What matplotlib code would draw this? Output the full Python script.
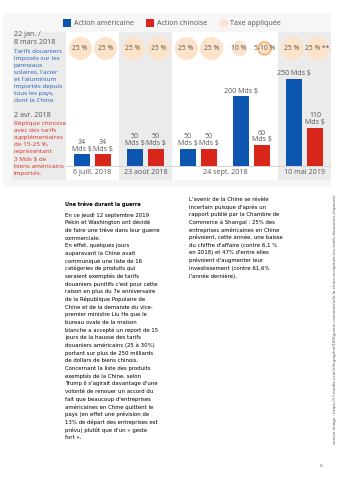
import matplotlib
matplotlib.use("Agg")
import matplotlib.pyplot as plt
from matplotlib.patches import Rectangle, Circle

# ---------------- data ----------------
dates = ["6 juill. 2018", "23 août 2018", "24 sept. 2018", "10 mai 2019"]
date_pos = [0, 1, 2.5, 4]
pairs = [0, 1, 2, 3, 4]
us_values = [34, 50, 50, 200, 250]
cn_values = [34, 50, 50, 60, 110]
us_labels = ["34\nMds $", "50\nMds $", "50\nMds $", "200 Mds $", "250 Mds $"]
cn_labels = ["34\nMds $", "50\nMds $", "50\nMds $", "60\nMds $", "110\nMds $"]
us_tax = ["25 %", "25 %", "25 %", "10 %", "25 %"]
cn_tax = ["25 %", "25 %", "25 %", "5-10 %", "25 % **"]
legend_labels = ["Action américaine", "Action chinoise", "Taxe appliquée"]

head_dates = ["22 jan. /", "8 mars 2018"]
us_note = ["Tarifs douaniers", "imposés sur les", "panneaux", "solaires, l'acier",
           "et l'aluminium", "importés depuis", "tous les pays,", "dont la Chine."]
cn_date = "2 avr. 2018"
cn_note = ["Réplique chinoise", "avec des tarifs", "supplémentaires", "de 15-25 %,",
           "représentant", "3 Mds $ de", "biens américains", "importés."]

title_left = "Une trêve durant la guerre"
body_left = [
    "En ce jeudi 12 septembre 2019",
    "Pékin et Washington ont décidé",
    "de faire une trêve dans leur guerre",
    "commerciale.",
    "En effet, quelques jours",
    "auparavant la Chine avait",
    "communiqué une liste de 16",
    "catégories de produits qui",
    "seraient exemptés de tarifs",
    "douaniers punitifs c'est pour cette",
    "raison en plus du 7e anniversaire",
    "de la République Populaire de",
    "Chine et de la demande du vice-",
    "premier ministre Liu He que le",
    "bureau ovale de la maison",
    "blanche a accepté un report de 15",
    "jours de la hausse des tarifs",
    "douaniers américains (25 à 30%)",
    "portant sur plus de 250 milliards",
    "de dollars de biens chinois.",
    "Concernant la liste des produits",
    "exemptés de la Chine, selon",
    "Trump il s'agirait davantage d'une",
    "volonté de renouer un accord du",
    "fait que beaucoup d'entreprises",
    "américaines en Chine quittent le",
    "pays (en effet une prévision de",
    "13% de départ des entreprises est",
    "prévu) plutôt que d'un « geste",
    "fort ».",
]
body_right = [
    "L'avenir de la Chine se révèle",
    "incertain puisque d'après un",
    "rapport publié par la Chambre de",
    "Commerce à Shangaï : 25% des",
    "entreprises américaines en Chine",
    "prévoient, cette année, une baisse",
    "du chiffre d'affaire (contre 6,1 %",
    "en 2018) et 47% d'entre elles",
    "prévoient d'augmenter leur",
    "investissement (contre 61,6%",
    "l'année dernière).",
]
source_text = ("source image : https://i.f-media.com/infographie/180/guerre-commerciale-"
               "la-chine-recapitule-les-tarifs-douaniers-imposes/")
page_no = "8"

# ---------------- style ----------------
BLUE = "#0d56b0"
RED = "#d8261b"
PEACH = "#fde3c9"
RING = "#f0ae6c"
GREY_TXT = "#555555"
PANEL = "#f6f6f6"
BAND = "#ebebeb"
CF = "Open Sans"

W, H = 339, 480
fig = plt.figure(figsize=(W / 100, H / 100), dpi=100)
fig.patch.set_facecolor("white")

# background axes in pixel coordinates
bg = fig.add_axes([0, 0, 1, 1], zorder=0)
bg.set_xlim(0, W); bg.set_ylim(H, 0); bg.axis("off")
bg.add_patch(Rectangle((3, 13), 327.5, 174, color=PANEL, lw=0))
bg.add_patch(Rectangle((12.7, 31.7), 53.3, 148.3, color=BAND, lw=0))

# bar axes
x0, x1, ytop, ybot = 66, 331, 31.7, 180
ax = fig.add_axes([x0 / W, 1 - ybot / H, (x1 - x0) / W, (ybot - ytop) / H], zorder=1)
ax.set_xlim(-0.5, 4.5)
ax.set_ylim(-40.2, 385.9)
ax.set_facecolor("white")
for s in ax.spines.values():
    s.set_visible(False)
ax.set_xticks([]); ax.set_yticks([])
for a, b in [(0.5, 1.5), (3.5, 4.5)]:
    ax.axvspan(a, b, color=BAND, lw=0, zorder=0)
ax.axhline(0, color="#d2d2d2", lw=0.7, zorder=1)

off, bw = 0.2, 0.315
xs_us = [p - off for p in pairs]
xs_cn = [p + off for p in pairs]
ax.bar(xs_us, us_values, width=bw, color=BLUE, zorder=2)
ax.bar(xs_cn, cn_values, width=bw, color=RED, zorder=2)
for x, v, lab in list(zip(xs_us, us_values, us_labels)) + list(zip(xs_cn, cn_values, cn_labels)):
    ax.annotate(lab, (x, v), xytext=(0, 1.2), textcoords="offset points",
                ha="center", va="bottom", fontsize=5.0, family=CF,
                color=GREY_TXT, linespacing=0.95)

for x, lab in zip(date_pos, dates):
    ax.text(x, -18, lab, ha="center", va="center", fontsize=5.1, family=CF, color=GREY_TXT)

# tax circles
cy = 338
coff = 0.245
def tax_size(lab):
    return 274 if lab.startswith("25") else 125

for p, tu, tc in zip(pairs, us_tax, cn_tax):
    for x, t in [(p - coff, tu), (p + coff, tc)]:
        ax.scatter([x], [cy], s=tax_size(t), color=PEACH, lw=0, zorder=2, clip_on=False)
        if t.startswith("5-"):
            ax.scatter([x], [cy], s=80, facecolor="none", edgecolor=RING, lw=1.0,
                       zorder=3, clip_on=False)
        ax.text(x, cy, t, ha="center", va="center", fontsize=4.9, family=CF,
                color=GREY_TXT, zorder=4)

# overlay axes for texts in pixel coordinates
ov = fig.add_axes([0, 0, 1, 1], zorder=2)
ov.set_xlim(0, W); ov.set_ylim(H, 0); ov.axis("off")
ov.patch.set_alpha(0)

# legend
ov.add_patch(Rectangle((63.3, 19.3), 7.7, 7.4, color=BLUE, lw=0))
ov.text(74, 23.2, legend_labels[0], va="center", ha="left", fontsize=5.1, family=CF, color=GREY_TXT)
ov.add_patch(Rectangle((146, 19.3), 7.7, 7.4, color=RED, lw=0))
ov.text(157, 23.2, legend_labels[1], va="center", ha="left", fontsize=5.1, family=CF, color=GREY_TXT)
ov.add_patch(Circle((224, 23), 4.2, color=PEACH, lw=0))
ov.text(230, 23.2, legend_labels[2], va="center", ha="left", fontsize=5.1, family=CF, color=GREY_TXT)

# left column notes
lx = 14
for i, t in enumerate(head_dates):
    ov.text(lx, 34.3 + 8 * i, t, va="center", ha="left", fontsize=5.1, family=CF, color=GREY_TXT)
for i, t in enumerate(us_note):
    ov.text(lx, 51.7 + 6.9 * i, t, va="center", ha="left", fontsize=4.6, family=CF, color="#1f5fbf")
ov.text(lx, 115.7, cn_date, va="center", ha="left", fontsize=5.1, family=CF, color=GREY_TXT)
for i, t in enumerate(cn_note):
    ov.text(lx, 123.3 + 7.14 * i, t, va="center", ha="left", fontsize=4.6, family=CF, color="#d93025")

# body text
BF = "DejaVu Sans"
ov.text(65, 204, title_left, va="center", ha="left", fontsize=3.6, family=BF,
        weight="bold", color="#000000")
for i, t in enumerate(body_left):
    ov.text(65, 215 + 7.67 * i, t, va="center", ha="left", fontsize=3.85, family=BF,
            color="#000000")
for i, t in enumerate(body_right):
    ov.text(189, 199.3 + 7.67 * i, t, va="center", ha="left", fontsize=3.85, family=BF,
            color="#000000")

ov.text(335, 319, source_text, rotation=90, va="center", ha="center", fontsize=2.9,
        family=BF, color="#555555")
ov.text(321, 466, page_no, va="center", ha="center", fontsize=3.2, family=BF, color="#777777")

fig.savefig("out.png", dpi=100)
